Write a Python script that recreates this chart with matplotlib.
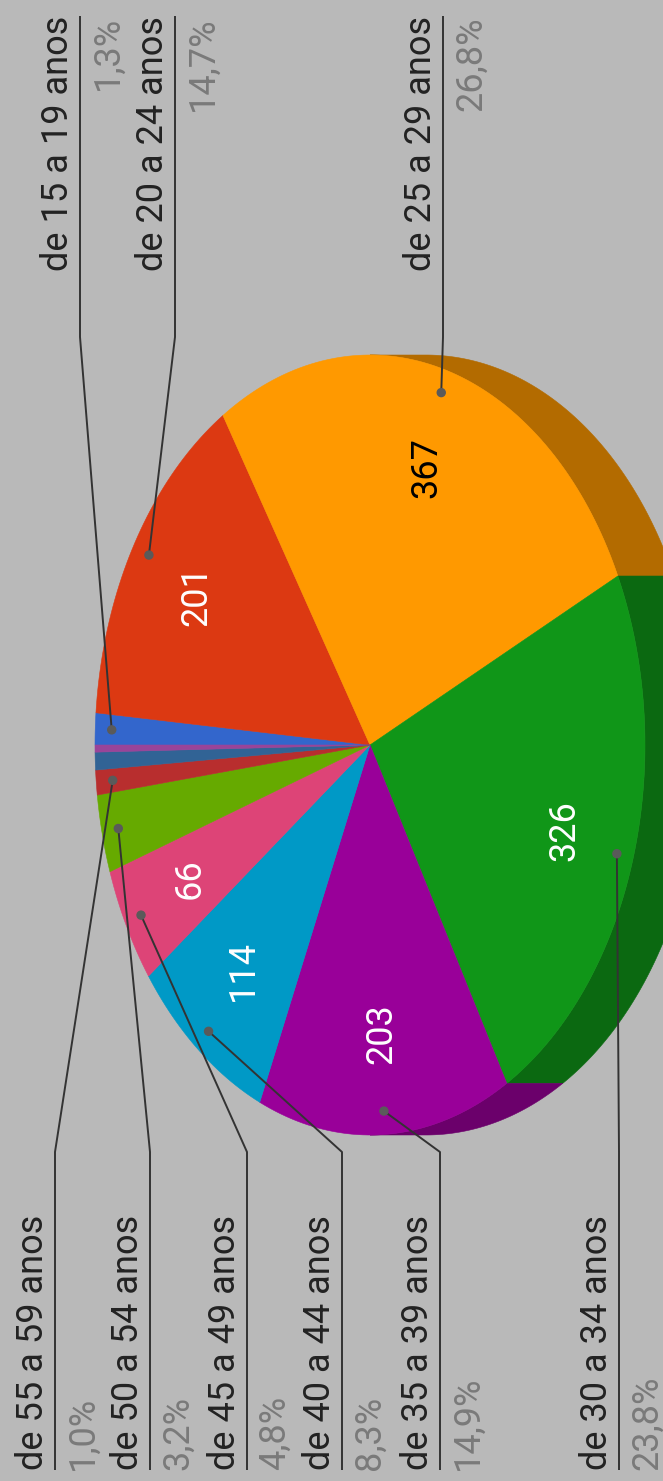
import numpy as np
import matplotlib.pyplot as plt
from matplotlib.patches import Polygon, Circle
from matplotlib.colors import to_rgb

categories = ['de 15 a 19 anos', 'de 20 a 24 anos', 'de 25 a 29 anos',
              'de 30 a 34 anos', 'de 35 a 39 anos', 'de 40 a 44 anos',
              'de 45 a 49 anos', 'de 50 a 54 anos', 'de 55 a 59 anos',
              None, None]
values = [18, 201, 367, 326, 203, 114, 66, 44, 14, 10, 4]
colors = ['#3366cc', '#dc3912', '#ff9900', '#109618', '#990099', '#0099c6',
          '#dd4477', '#66aa00', '#b82e2e', '#316395', '#994499']

# where each callout's underline sits, and on which edge its label goes
line_x = [80, 175, 443, 619, 440, 342, 247, 150, 55, None, None]
label_side = ['top', 'top', 'top', 'bottom', 'bottom', 'bottom',
              'bottom', 'bottom', 'bottom', None, None]

W, H = 663, 1481
bg = '#b9b9b9'
font = 'Roboto'

cx, cy = 370, 745      # centre of the top face
a, b = 275, 390        # half axes of the top face
depth = 56             # thickness of the 3d rim

fig = plt.figure(figsize=(W / 100, H / 100), dpi=100, facecolor=bg)
ax = fig.add_axes([0, 0, 1, 1])
ax.set_xlim(0, W)
ax.set_ylim(H, 0)
ax.axis('off')

vals = np.array(values, dtype=float)
frac = vals / vals.sum()
edges = np.concatenate([[0], np.cumsum(frac)]) * 2 * np.pi


def pt(phi, r=1.0, dx=0.0):
    return cx - a * r * np.cos(phi) + dx, cy - b * r * np.sin(phi)


def darker(c, f=0.7):
    return tuple(v * f for v in to_rgb(c))


# rim, visible only where it faces +x
for i in range(len(values)):
    lo = max(edges[i], np.pi / 2)
    hi = min(edges[i + 1], 3 * np.pi / 2)
    if hi <= lo:
        continue
    t = np.linspace(lo, hi, 100)
    x1, y1 = pt(t)
    x2, y2 = pt(t[::-1], dx=depth)
    poly = np.column_stack([np.r_[x1, x2], np.r_[y1, y2]])
    ax.add_patch(Polygon(poly, closed=True, fc=darker(colors[i]),
                         ec=darker(colors[i]), lw=0.4))

# top face
for i in range(len(values)):
    t = np.linspace(edges[i], edges[i + 1], int(300 * frac[i]) + 3)
    x, y = pt(t)
    poly = np.column_stack([np.r_[cx, x], np.r_[cy, y]])
    ax.add_patch(Polygon(poly, closed=True, fc=colors[i], ec=colors[i], lw=0.4))

# values inside the bigger slices
for i, v in enumerate(values):
    if 100 * frac[i] < 4:
        continue
    mid = 0.5 * (edges[i] + edges[i + 1])
    x, y = pt(mid, 0.74)
    r, g, bl = to_rgb(colors[i])
    lum = 0.2126 * r + 0.7152 * g + 0.0722 * bl
    ax.text(x, y, str(v), rotation=90, rotation_mode='anchor',
            ha='center', va='center', fontsize=26, family=font,
            color='black' if lum > 0.5 else 'white', zorder=4)

# callouts with name above the line and share below it
for i, name in enumerate(categories):
    if name is None:
        continue
    mid = 0.5 * (edges[i] + edges[i + 1])
    px, py = pt(mid, 0.94)
    lx = line_x[i]
    if label_side[i] == 'top':
        y_bend, y_end, ha = 337, 16, 'right'
    else:
        y_bend, y_end, ha = 1152, 1470, 'left'
    ax.plot([px, lx, lx], [py, y_bend, y_end], color='#333333', lw=1.4,
            solid_capstyle='butt', zorder=5)
    ax.add_patch(Circle((px, py), 4, color='#5a5a5a', zorder=6))
    pct = f'{100 * frac[i]:.1f}'.replace('.', ',') + '%'
    ax.text(lx - 12, y_end, name, rotation=90, rotation_mode='anchor',
            ha=ha, va='baseline', fontsize=26, family=font, color='#222222')
    ax.text(lx + 38, y_end, pct, rotation=90, rotation_mode='anchor',
            ha=ha, va='baseline', fontsize=26, family=font, color='#7a7a7a')

fig.savefig('out.png', dpi=100, facecolor=bg)
